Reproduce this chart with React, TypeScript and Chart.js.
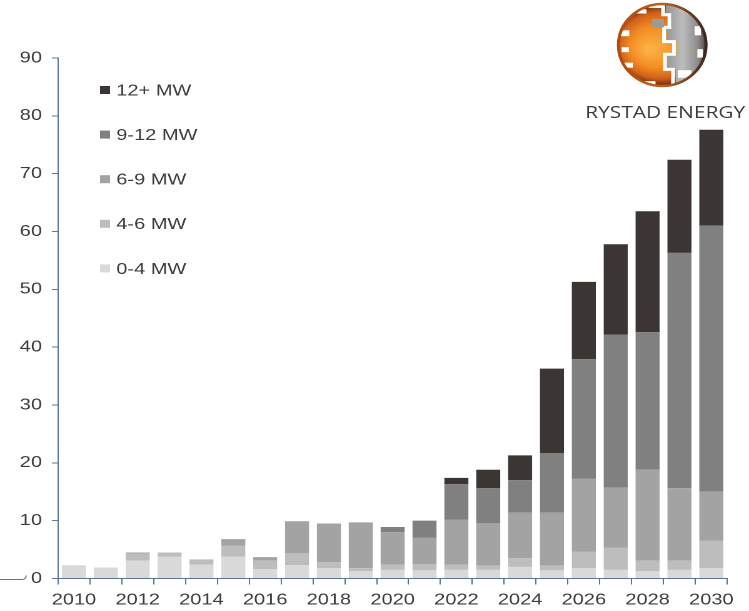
import { useEffect, useRef } from 'react';
import { Chart, registerables } from 'chart.js';

Chart.register(...registerables);

// Annual installed capacity by turbine rating class, stacked from smallest to largest
const years = [
  '2010', '2011', '2012', '2013', '2014', '2015', '2016', '2017', '2018', '2019', '2020',
  '2021', '2022', '2023', '2024', '2025', '2026', '2027', '2028', '2029', '2030',
];
const mw0to4 = [2.3, 1.9, 3.1, 3.8, 2.4, 3.8, 1.6, 2.3, 1.8, 1.3, 1.5, 1.4, 1.5, 1.5, 2.0, 1.4, 1.8, 1.5, 1.3, 1.5, 1.8];
const mw4to6 = [0, 0, 1.2, 0.7, 0.9, 1.9, 1.5, 2.1, 1.0, 0.5, 0.9, 1.1, 0.9, 0.7, 1.5, 0.8, 2.8, 3.8, 1.8, 1.6, 4.7];
const mw6to9 = [0, 0, 0.2, 0, 0, 1.1, 0.6, 5.5, 6.7, 7.9, 5.6, 4.6, 7.8, 7.4, 7.9, 9.2, 12.7, 10.4, 15.7, 12.5, 8.5];
const mw9to12 = [0, 0, 0, 0, 0, 0, 0, 0, 0, 0, 0.9, 2.9, 6.1, 6.0, 5.6, 10.3, 20.6, 26.5, 23.8, 40.7, 46.0];
const mw12plus = [0, 0, 0, 0, 0, 0, 0, 0, 0, 0, 0, 0, 1.1, 3.2, 4.3, 14.6, 13.4, 15.6, 20.9, 16.1, 16.6];

const seriesLabels = ['0-4 MW', '4-6 MW', '6-9 MW', '9-12 MW', '12+ MW'];
const seriesData = [mw0to4, mw4to6, mw6to9, mw9to12, mw12plus];
const seriesColors = ['#d9d9d9', '#bdbdbd', '#a3a3a3', '#808080', '#3b3634'];

const yMin = 0;
const yMax = 90;
const yStep = 10;

const brandName = 'RYSTAD ENERGY';

// Page size and the horizontal stretch applied to the whole drawing
const OUT_W = 749;
const OUT_H = 611;
const STRETCH = 1.25;
const W = Math.round(OUT_W / STRETCH);

const FONT = "'Liberation Sans', Arial, sans-serif";
const TEXT = '#3c3c3c';
const AXIS = '#5a7491';

function drawGlobe(ctx: CanvasRenderingContext2D, cx: number, cy: number, rx: number, ry: number) {
  const P = (u: number, v: number): [number, number] => [cx + u * rx, cy + v * ry];
  ctx.save();
  ctx.beginPath();
  ctx.ellipse(cx, cy, rx, ry, 0, 0, Math.PI * 2);
  ctx.closePath();
  ctx.clip();

  // orange body
  const g = ctx.createRadialGradient(cx - rx * 0.3, cy + ry * 0.1, 2, cx, cy, rx * 1.1);
  g.addColorStop(0, '#fbb245');
  g.addColorStop(0.5, '#f38b22');
  g.addColorStop(0.82, '#d0621a');
  g.addColorStop(1, '#7c2f10');
  ctx.fillStyle = g;
  ctx.fillRect(cx - rx, cy - ry, rx * 2, ry * 2);

  // grey hemisphere with a stepped edge
  const edge: [number, number][] = [
    [0.08, -1.1], [0.08, -0.72], [0.22, -0.72], [0.22, -0.42], [0.1, -0.42], [0.1, -0.08],
    [0.32, -0.08], [0.32, 0.22], [0.12, 0.22], [0.12, 0.58], [0.3, 0.58], [0.3, 1.1],
  ];
  ctx.beginPath();
  edge.forEach(([u, v], i) => {
    const [x, y] = P(u, v);
    if (i === 0) ctx.moveTo(x, y); else ctx.lineTo(x, y);
  });
  ctx.lineTo(...P(1.1, 1.1));
  ctx.lineTo(...P(1.1, -1.1));
  ctx.closePath();
  const gg = ctx.createLinearGradient(cx, cy, cx + rx, cy);
  gg.addColorStop(0, '#8e8e8e');
  gg.addColorStop(0.45, '#bdbdbd');
  gg.addColorStop(0.8, '#8a8a8a');
  gg.addColorStop(1, '#4a3a34');
  ctx.fillStyle = gg;
  ctx.fill();

  // white separators along the stepped edge
  ctx.beginPath();
  edge.forEach(([u, v], i) => {
    const [x, y] = P(u - 0.06, v);
    if (i === 0) ctx.moveTo(x, y); else ctx.lineTo(x, y);
  });
  ctx.strokeStyle = '#ffffff';
  ctx.lineWidth = 3;
  ctx.stroke();

  // white blocks around the rim and inside
  ctx.fillStyle = '#ffffff';
  const blocks: [number, number, number, number][] = [
    [-0.95, -0.35, 0.22, 0.14], [-0.9, 0.05, 0.16, 0.12], [-0.85, 0.42, 0.2, 0.12],
    [-0.6, -0.85, 0.25, 0.1], [-0.3, -0.98, 0.3, 0.1], [0.55, -0.85, 0.25, 0.1],
    [0.72, -0.45, 0.14, 0.22], [0.78, 0.1, 0.12, 0.2], [0.35, 0.6, 0.3, 0.18],
    [-0.45, 0.86, 0.3, 0.1], [0.5, 0.82, 0.25, 0.08],
  ];
  blocks.forEach(([u, v, w, h]) => {
    const [x, y] = P(u, v);
    ctx.fillRect(x, y, w * rx, h * ry);
  });
  // small grey block on the orange side
  ctx.fillStyle = '#9a9a9a';
  const [bx, by] = P(-0.22, -0.62);
  ctx.fillRect(bx, by, 0.26 * rx, 0.2 * ry);
  ctx.restore();

  // rim
  ctx.save();
  ctx.beginPath();
  ctx.ellipse(cx, cy, rx - 1, ry - 1, 0, 0, Math.PI * 2);
  const rim = ctx.createLinearGradient(cx - rx, cy, cx + rx, cy);
  rim.addColorStop(0, '#b24a12');
  rim.addColorStop(0.5, '#c0601c');
  rim.addColorStop(1, '#3a2620');
  ctx.strokeStyle = rim;
  ctx.lineWidth = 2.5;
  ctx.stroke();
  ctx.restore();
}

const decorPlugin = {
  id: 'decor',
  afterDraw(chart: Chart) {
    const ctx = chart.ctx;
    const area = chart.chartArea;

    // legend, largest class on top
    ctx.save();
    ctx.font = `16px ${FONT}`;
    ctx.textBaseline = 'middle';
    ctx.textAlign = 'left';
    const sets = chart.data.datasets.slice().reverse();
    sets.forEach((ds, k) => {
      const y = 90 + k * 44.6;
      ctx.fillStyle = ds.backgroundColor as string;
      ctx.fillRect(80, y - 4, 8, 8);
      ctx.fillStyle = TEXT;
      ctx.fillText(ds.label as string, 93, y + 1);
    });
    ctx.restore();

    // brand mark
    drawGlobe(ctx, 529.6, 45, 36, 42);
    ctx.save();
    ctx.font = "16px 'Open Sans', 'Noto Sans', sans-serif";
    ctx.fillStyle = '#3a3a3a';
    ctx.textBaseline = 'alphabetic';
    ctx.textAlign = 'center';
    const target = 128;
    const m = ctx.measureText(brandName).width;
    ctx.translate(532, 118);
    ctx.scale(target / m, 1);
    ctx.fillText(brandName, 0, 0);
    ctx.restore();

    // connector stub at the lower left
    ctx.save();
    ctx.strokeStyle = AXIS;
    ctx.lineWidth = 1;
    ctx.beginPath();
    ctx.moveTo(0, area.bottom + 1);
    ctx.lineTo(17.5, area.bottom + 1);
    ctx.quadraticCurveTo(20.5, area.bottom + 1, 21, area.bottom - 3);
    ctx.stroke();
    ctx.restore();
  },
};

export default function App() {
  const canvasRef = useRef<HTMLCanvasElement>(null);

  useEffect(() => {
    document.body.style.margin = '0';
    const canvas = canvasRef.current;
    if (!canvas) return;
    const chart = new Chart(canvas, {
      type: 'bar',
      data: {
        labels: years,
        datasets: seriesData.map((d, i) => ({
          label: seriesLabels[i],
          data: d,
          backgroundColor: seriesColors[i],
          borderWidth: 0,
          categoryPercentage: 1,
          barPercentage: 0.753,
        })),
      },
      options: {
        animation: false,
        responsive: false,
        devicePixelRatio: 2,
        layout: { padding: { top: 58, right: W - 581.6, bottom: 0, left: 0 } },
        plugins: {
          legend: { display: false },
          tooltip: { enabled: false },
        },
        scales: {
          x: {
            stacked: true,
            afterFit: (s: any) => {
              s.height = OUT_H - 578.5;
            },
            border: { color: AXIS, width: 1 },
            grid: { offset: true, drawOnChartArea: false, drawTicks: true, tickLength: 6, color: AXIS },
            ticks: {
              autoSkip: false,
              maxRotation: 0,
              padding: 6,
              color: TEXT,
              font: { family: FONT, size: 16 },
              callback: (_v: any, i: number) => (i % 2 === 0 ? years[i] : ''),
            },
          },
          y: {
            stacked: true,
            min: yMin,
            max: yMax,
            afterFit: (s: any) => {
              s.width = 46.4;
            },
            border: { color: AXIS, width: 1 },
            grid: { drawOnChartArea: false, drawTicks: true, tickLength: 4.8, color: AXIS },
            ticks: {
              stepSize: yStep,
              padding: 8,
              color: TEXT,
              font: { family: FONT, size: 16 },
            },
          },
        },
      },
      plugins: [decorPlugin],
    });
    return () => chart.destroy();
  }, []);

  return (
    <div style={{ width: OUT_W, height: OUT_H, overflow: 'hidden', background: '#ffffff' }}>
      <div style={{ width: W, height: OUT_H, transform: `scaleX(${OUT_W / W})`, transformOrigin: '0 0' }}>
        <canvas ref={canvasRef} width={W} height={OUT_H} style={{ display: 'block' }} />
      </div>
    </div>
  );
}
